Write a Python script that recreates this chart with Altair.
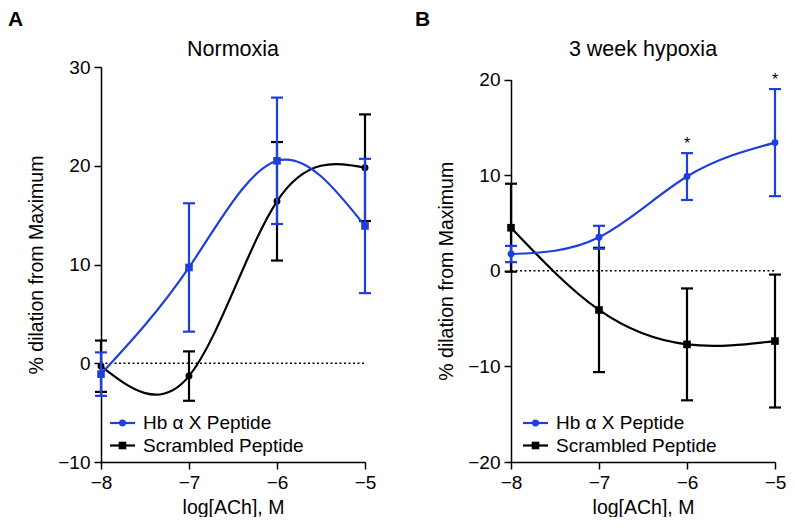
import altair as alt
import pandas as pd

# ---------------- data ----------------
LOG_ACH = [-8, -7, -6, -5]

NORM_HB_MEAN = [-1.1, 9.7, 20.5, 13.9]
NORM_HB_SEM = [2.2, 6.5, 6.4, 6.8]
NORM_SCR_MEAN = [-0.3, -1.3, 16.4, 19.8]
NORM_SCR_SEM = [2.6, 2.5, 6.0, 5.4]

HYP_HB_MEAN = [1.75, 3.5, 9.85, 13.4]
HYP_HB_SEM = [0.85, 1.2, 2.45, 5.6]
HYP_HB_SIG = ["", "", "*", "*"]
HYP_SCR_MEAN = [4.5, -4.1, -7.7, -7.35]
HYP_SCR_SEM = [4.6, 6.5, 5.85, 6.95]

SERIES = ["Hb α X Peptide", "Scrambled Peptide"]
PANEL_LETTERS = ["A", "B"]
PANEL_TITLES = ["Normoxia", "3 week hypoxia"]
X_TICKS = [-8, -7, -6, -5]
Y_TICKS_A = [-10, 0, 10, 20, 30]
Y_TICKS_B = [-20, -10, 0, 10, 20]
X_TITLE = "log[ACh], M"
Y_TITLE = "% dilation from Maximum"

# ---------------- styling ----------------
BLUE = "#1f3fdc"
BLACK = "#000000"
FONT = "Liberation Sans"
W, H = 264, 395
LW = 2.2


def series_df(mean, sem, sig=None):
    d = pd.DataFrame({"x": LOG_ACH, "mean": mean, "sem": sem})
    d["lo"] = d["mean"] - d["sem"]
    d["hi"] = d["mean"] + d["sem"]
    d["sig"] = sig if sig is not None else [""] * len(LOG_ACH)
    return d


def make_panel(idx, hb, scr, hb_shape, scr_shape, ydomain, yticks, yrange, legend_dx, letter_x):
    xs = alt.Scale(domain=[-8, -5], nice=False, zero=False)
    ys = alt.Scale(domain=ydomain, nice=False, zero=False, range=yrange)
    xaxis = alt.Axis(values=X_TICKS, title=X_TITLE, labelFlush=False)
    yaxis = alt.Axis(values=yticks, title=Y_TITLE, labelFlush=False, titlePadding=11)

    def X():
        return alt.X("x:Q", scale=xs, axis=xaxis)

    def Y(f):
        return alt.Y(f"{f}:Q", scale=ys, axis=yaxis)

    layers = []
    zero = pd.DataFrame({"v": [0]})
    layers.append(
        alt.Chart(zero).mark_rule(color=BLACK, strokeWidth=1.3, strokeDash=[2, 2.5]).encode(
            x=alt.datum(-8, scale=xs, axis=xaxis), x2=alt.datum(-5), y=alt.datum(0, scale=ys, axis=yaxis)
        )
    )

    def series_layers(d, color, shape, size):
        base = alt.Chart(d)
        return [
            base.mark_line(color=color, strokeWidth=LW, interpolate="natural").encode(x=X(), y=Y("mean")),
            base.mark_rule(color=color, strokeWidth=LW).encode(x=X(), y=Y("lo"), y2="hi:Q"),
            base.mark_tick(color=color, orient="horizontal", size=12, thickness=LW, opacity=1).encode(x=X(), y=Y("lo")),
            base.mark_tick(color=color, orient="horizontal", size=12, thickness=LW, opacity=1).encode(x=X(), y=Y("hi")),
            base.mark_point(color=color, filled=True, shape=shape, size=size, opacity=1).encode(x=X(), y=Y("mean")),
        ]

    sizes = {"circle": 48, "square": 58}
    layers += series_layers(scr, BLACK, scr_shape, sizes[scr_shape])
    layers += series_layers(hb, BLUE, hb_shape, sizes[hb_shape])

    # significance marks
    layers.append(
        alt.Chart(hb).mark_text(fontSize=16, dy=-9, baseline="middle", color=BLACK).encode(
            x=X(), y=Y("hi"), text="sig:N"
        )
    )

    # legend (inside plot, lower left)
    leg_shapes = ["circle", "square"]
    leg_colors = [BLUE, BLACK]
    leg_y = [356, 378.5]
    for i, lab in enumerate(SERIES):
        ld = pd.DataFrame({"label": [lab]})
        lb = alt.Chart(ld)
        layers.append(lb.mark_rule(color=leg_colors[i], strokeWidth=LW).encode(
            x=alt.value(9 + legend_dx), x2=alt.value(34 + legend_dx), y=alt.value(leg_y[i])))
        layers.append(lb.mark_point(color=leg_colors[i], filled=True, shape=leg_shapes[i],
                                    size=sizes[leg_shapes[i]], opacity=1).encode(
            x=alt.value(21.5 + legend_dx), y=alt.value(leg_y[i])))
        layers.append(lb.mark_text(align="left", baseline="middle", fontSize=19, color=BLACK).encode(
            x=alt.value(42 + legend_dx), y=alt.value(leg_y[i]), text="label:N"))

    # panel title and letter
    td = pd.DataFrame({"title": [PANEL_TITLES[idx]], "letter": [PANEL_LETTERS[idx]]})
    layers.append(alt.Chart(td).mark_text(align="center", baseline="alphabetic", fontSize=21.5, color=BLACK).encode(
        x=alt.value(W / 2), y=alt.value(-11), text="title:N"))
    layers.append(alt.Chart(td).mark_text(align="left", baseline="alphabetic", fontSize=21,
                                          fontWeight="bold", color=BLACK).encode(
        x=alt.value(letter_x), y=alt.value(-41.5), text="letter:N"))

    return alt.layer(*layers).properties(width=W, height=H)


panel_a = make_panel(0, series_df(NORM_HB_MEAN, NORM_HB_SEM), series_df(NORM_SCR_MEAN, NORM_SCR_SEM),
                     "square", "circle", [-10, 30], Y_TICKS_A, [H, 0], 0, -93)
panel_b = make_panel(1, series_df(HYP_HB_MEAN, HYP_HB_SEM, HYP_HB_SIG), series_df(HYP_SCR_MEAN, HYP_SCR_SEM),
                     "circle", "square", [-20, 20], Y_TICKS_B, [H, 12.5], 3, -96)

chart = (
    alt.hconcat(panel_a, panel_b, spacing=39)
    .properties(padding={"left": 0, "top": 0, "right": 0, "bottom": 0})
    .configure(font=FONT)
    .configure_view(stroke=None)
    .configure_axis(
        grid=False,
        domainColor=BLACK,
        domainWidth=1.5,
        tickColor=BLACK,
        tickWidth=1.5,
        tickSize=7,
        labelFont=FONT,
        labelFontSize=19,
        labelColor=BLACK,
        labelPadding=4,
        labelOverlap=False,
        titleFont=FONT,
        titleFontSize=19.5,
        titleFontWeight="normal",
        titleColor=BLACK,
    )
    .configure_axisX(titlePadding=6)
)

chart.save("out.html", embed_options={"renderer": "svg", "actions": False})
